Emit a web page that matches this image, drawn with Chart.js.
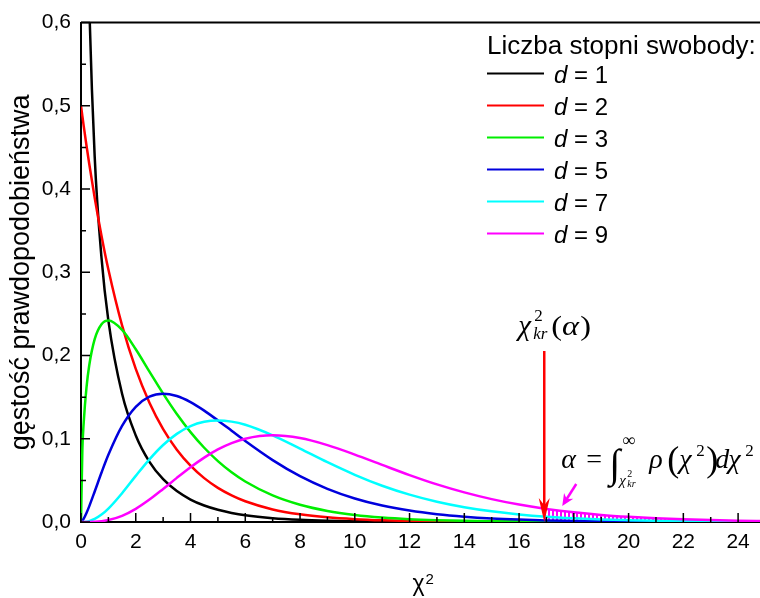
<!DOCTYPE html>
<html><head><meta charset="utf-8">
<script src="https://cdn.jsdelivr.net/npm/chart.js@4/dist/chart.umd.min.js"></script>
<style>html,body{margin:0;padding:0;background:#fff}</style>
</head><body>
<canvas id="c" width="760" height="598"></canvas>
<script>
// ---- data ----
const xValues = [0,0.05,0.1,0.2,0.3,0.5,0.75,1,1.5,2,2.5,3,3.5,4,4.5,5,5.5,6,7,8,9,10,11,12,13,14,15,16,17,18,19,20,21,22,23,24,25];
const d1 = [null,1.740,1.200,0.807,0.627,0.439,0.317,0.242,0.154,0.104,0.0723,0.0514,0.0371,0.0270,0.0198,0.0147,0.0109,0.0081,0.0046,0.0026,0.0015,0.0009,0.0005,0.0003,0.0002,0.0001,0.0001,0.00003,0.00002,0.00001,0.00001,0,0,0,0,0,0];
const d2 = [0.5,0.4877,0.4756,0.4524,0.4304,0.3894,0.3436,0.3033,0.2362,0.1839,0.1433,0.1116,0.0869,0.0677,0.0527,0.0410,0.0320,0.0249,0.0151,0.0092,0.0056,0.0034,0.0020,0.0012,0.0008,0.0005,0.0003,0.0002,0.0001,0.00006,0.00004,0.00002,0.00001,0.00001,0.00001,0,0];
const d3 = [0,0.0870,0.1200,0.1614,0.1881,0.2197,0.2375,0.2420,0.2308,0.2076,0.1807,0.1542,0.1297,0.1080,0.0892,0.0732,0.0598,0.0487,0.0319,0.0207,0.0133,0.0085,0.0054,0.0034,0.0022,0.0014,0.0009,0.0005,0.0003,0.0002,0.0001,0.0001,0.00005,0.00003,0.00002,0.00001,0.00001];
const d5 = [0,0.0015,0.0040,0.0108,0.0188,0.0366,0.0594,0.0807,0.1154,0.1384,0.1506,0.1542,0.1513,0.1440,0.1338,0.1220,0.1097,0.0973,0.0744,0.0551,0.0399,0.0283,0.0198,0.0137,0.0094,0.0064,0.0043,0.0029,0.0019,0.0013,0.0008,0.0005,0.0004,0.0002,0.0002,0.0001,0.0001];
const d7 = [0,0.00001,0.0001,0.0004,0.0011,0.0037,0.0089,0.0161,0.0346,0.0554,0.0753,0.0925,0.1059,0.1152,0.1204,0.1220,0.1206,0.1168,0.1041,0.0882,0.0718,0.0567,0.0436,0.0329,0.0244,0.0178,0.0128,0.0091,0.0064,0.0045,0.0031,0.0022,0.0015,0.0010,0.0007,0.0005,0.0003];
const d9 = [0,0,0,0.00001,0.00005,0.0003,0.0010,0.0023,0.0074,0.0158,0.0269,0.0397,0.0530,0.0658,0.0774,0.0872,0.0948,0.1001,0.1041,0.1008,0.0923,0.0810,0.0686,0.0564,0.0452,0.0356,0.0275,0.0209,0.0157,0.0116,0.0085,0.0062,0.0044,0.0032,0.0023,0.0016,0.0011];
const seriesLabels = ['d = 1','d = 2','d = 3','d = 5','d = 7','d = 9'];
const seriesColors = ['#000000','#ff0000','#00ee00','#0000dd','#00ffff','#ff00ff'];
const critX = 16.92;      // chi^2_kr position of the red arrow
const critY = 0.0160;     // d = 9 density at chi^2_kr
const legendTitle = 'Liczba stopni swobody:';
const yTitle = 'gęstość prawdopodobieństwa';

const SANS = "'Liberation Sans', Arial, sans-serif";
const SERIF = "'Liberation Serif', 'Times New Roman', serif";

function pts(arr){ return xValues.map((x,i)=>({x:x, y:arr[i]})); }
const tail = [{x:critX, y:critY}].concat(xValues.map((x,i)=>({x:x,y:d9[i]})).filter(p=>p.x>critX));

// vertical hatch pattern
const pc = document.createElement('canvas'); pc.width=4; pc.height=4;
const pctx = pc.getContext('2d'); pctx.fillStyle='#ff00ff'; pctx.fillRect(0,0,2,4);
const hatch = document.getElementById('c').getContext('2d').createPattern(pc,'repeat');

const allSeries = [d1,d2,d3,d5,d7,d9];
const datasets = allSeries.map((s,i)=>({
  label: seriesLabels[i], data: pts(s), borderColor: seriesColors[i], borderWidth: 2.5,
  pointRadius: 0, fill: false, cubicInterpolationMode: 'monotone', order: 6 - i
}));
datasets.push({label:'tail', data: tail, borderColor:'rgba(0,0,0,0)', borderWidth:0, backgroundColor: hatch,
  fill:'origin', pointRadius:0, order: 20});

function arrowHead(ctx, tx, ty, ux, uy, len, half, color){
  const nx = -uy, ny = ux;
  const bx = tx - ux*len, by = ty - uy*len;
  ctx.beginPath();
  ctx.moveTo(tx,ty);
  ctx.lineTo(bx + nx*half, by + ny*half);
  ctx.lineTo(tx - ux*len*0.7, ty - uy*len*0.7);
  ctx.lineTo(bx - nx*half, by - ny*half);
  ctx.closePath();
  ctx.fillStyle = color; ctx.fill();
}
function t(ctx, s, x, y, font){ ctx.font = font; ctx.fillText(s, x, y); return ctx.measureText(s).width; }

const decor = {
  id:'decor',
  afterDatasetsDraw(chart){
    const ctx = chart.ctx, xs = chart.scales.x, ys = chart.scales.y, a = chart.chartArea;
    ctx.save();
    ctx.strokeStyle = '#000'; ctx.lineWidth = 1.5;
    // inward ticks
    ctx.beginPath();
    for (let v=0; v<=24; v++){
      const px = xs.getPixelForValue(v), L = (v%2===0)?9:5;
      ctx.moveTo(px, a.bottom); ctx.lineTo(px, a.bottom - L);
    }
    for (let k=0; k<=12; k++){
      const py = ys.getPixelForValue(k*0.05), L = (k%2===0)?9:5;
      ctx.moveTo(a.left, py); ctx.lineTo(a.left + L, py);
    }
    ctx.stroke();
    // top frame
    ctx.lineWidth = 2;
    ctx.beginPath(); ctx.moveTo(a.left, a.top); ctx.lineTo(a.right, a.top); ctx.stroke();

    const cx = xs.getPixelForValue(critX), y0 = ys.getPixelForValue(0);
    // red arrow
    ctx.strokeStyle = '#ff0000'; ctx.lineWidth = 2.5;
    ctx.beginPath(); ctx.moveTo(cx, y0-171); ctx.lineTo(cx, y0-12); ctx.stroke();
    arrowHead(ctx, cx, y0, 0, 1, 24, 5.5, '#ff0000');
    // magenta arrow
    const tx0 = cx+32, ty0 = y0-38, tx1 = cx+18, ty1 = y0-16;
    const dx = tx1-tx0, dy = ty1-ty0, dl = Math.hypot(dx,dy), ux = dx/dl, uy = dy/dl;
    ctx.strokeStyle = '#ff00ff'; ctx.lineWidth = 2.5;
    ctx.beginPath(); ctx.moveTo(tx0,ty0); ctx.lineTo(tx1-ux*8, ty1-uy*8); ctx.stroke();
    arrowHead(ctx, tx1, ty1, ux, uy, 12, 5.5, '#ff00ff');

    // annotation texts
    ctx.fillStyle = '#000'; ctx.textAlign='left'; ctx.textBaseline='alphabetic';
    let bx = cx-26, by = y0-187;
    t(ctx, 'χ', bx, by, 'italic 29px '+SERIF);
    t(ctx, '2', bx+16, by-14, '17px '+SERIF);
    t(ctx, 'kr', bx+15, by+4, 'italic 17px '+SERIF);
    ctx.save();
    ctx.translate(bx+33, by); ctx.scale(1.2,1);
    let w = t(ctx, '(', 0, 0, '27px '+SERIF);
    let w2 = t(ctx, 'α', w, 0, 'italic 27px '+SERIF);
    t(ctx, ')', w+w2+1, 0, '27px '+SERIF);
    ctx.restore();

    bx = cx+17; by = y0-54;
    t(ctx, 'α', bx, by, 'italic 28px '+SERIF);
    t(ctx, '=', bx+25, by, '28px '+SERIF);
    t(ctx, '∫', bx+48, by+9, '40px '+SERIF);
    t(ctx, '∞', bx+61, by-22, '18px '+SERIF);
    t(ctx, 'χ', bx+58, by+17, 'italic 15px '+SERIF);
    t(ctx, '2', bx+66, by+9, '10px '+SERIF);
    t(ctx, 'kr', bx+66, by+19, 'italic 10px '+SERIF);
    t(ctx, 'ρ', bx+88, by, 'italic 28px '+SERIF);
    t(ctx, '(', bx+106, by+3, '36px '+SERIF);
    t(ctx, 'χ', bx+118, by, 'italic 28px '+SERIF);
    t(ctx, '2', bx+135, by-12, '17px '+SERIF);
    t(ctx, ')', bx+145, by+3, '36px '+SERIF);
    t(ctx, 'd', bx+154, by, 'italic 28px '+SERIF);
    t(ctx, 'χ', bx+167, by, 'italic 28px '+SERIF);
    t(ctx, '2', bx+184, by-12, '17px '+SERIF);

    // legend
    const lx = a.right - 273;
    t(ctx, legendTitle, lx, a.top + 31, '26px '+SANS);
    for (let i=0;i<seriesLabels.length;i++){
      const ly = a.top + 51 + 32*i;
      ctx.strokeStyle = seriesColors[i]; ctx.lineWidth = 2;
      ctx.beginPath(); ctx.moveTo(lx, ly); ctx.lineTo(lx+57, ly); ctx.stroke();
      const parts = seriesLabels[i].split(' ');
      const ww = t(ctx, parts[0], lx+67, ly+9, 'italic 24px '+SANS);
      t(ctx, ' '+parts.slice(1).join(' '), lx+67+ww, ly+9, '24px '+SANS);
    }

    // axis titles
    ctx.save();
    ctx.translate(22, (a.top+a.bottom)/2);
    ctx.rotate(-Math.PI/2);
    ctx.textAlign='center'; ctx.textBaseline='middle';
    t(ctx, yTitle, 0, 0, '27px '+SANS);
    ctx.restore();
    ctx.textAlign='left'; ctx.textBaseline='alphabetic';
    const mx = (a.left+a.right)/2;
    t(ctx, 'χ', mx-8, 591, '23px '+SANS);
    t(ctx, '2', mx+5, 584, '15px '+SANS);
    ctx.restore();
  }
};

new Chart(document.getElementById('c'), {
  type:'line',
  data:{datasets: datasets},
  options:{
    responsive:false, animation:false,
    layout:{padding:{top:21,right:0,bottom:0,left:0}},
    plugins:{legend:{display:false}, tooltip:{enabled:false}},
    scales:{
      x:{type:'linear', min:0, max:24.8,
        ticks:{stepSize:2, includeBounds:false, color:'#000', font:{size:21, family:SANS}, padding:8, maxRotation:0, autoSkip:false},
        grid:{display:false, drawTicks:false}, border:{color:'#000', width:2},
        afterFit(s){ s.height = 76; }},
      y:{type:'linear', min:0, max:0.6,
        ticks:{stepSize:0.1, color:'#000', font:{size:21, family:SANS}, padding:10,
          callback:(v)=>Number(v).toFixed(1).replace('.',',')},
        grid:{display:false, drawTicks:false}, border:{color:'#000', width:2},
        afterFit(s){ s.width = 81; }}
    }
  },
  plugins:[decor]
});
</script>
</body></html>
